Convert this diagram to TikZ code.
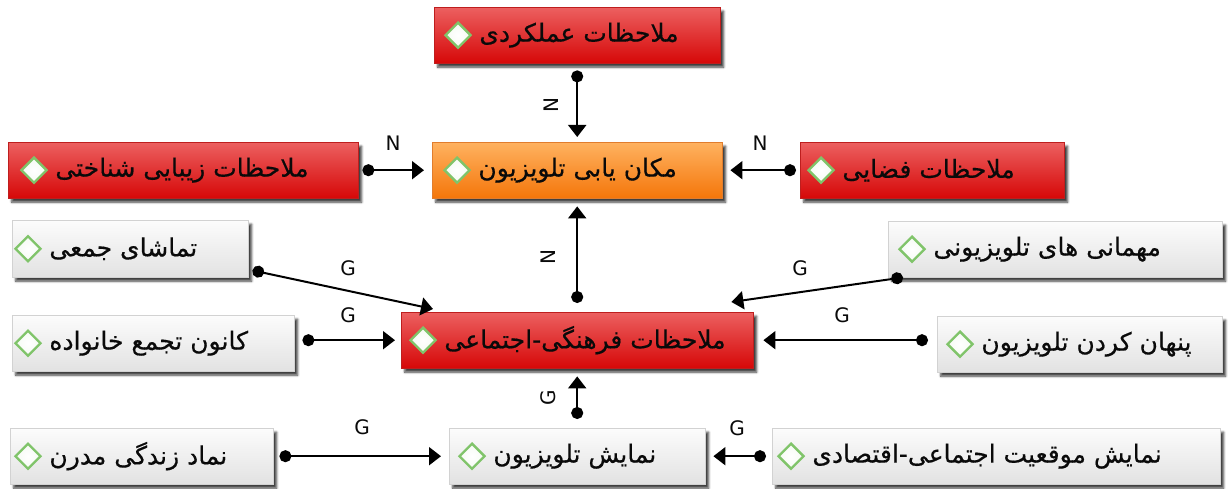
\documentclass[tikz,border=0pt]{standalone}
\usepackage{fontspec}
\setmainfont{DejaVu Sans}
\newfontfamily\fa[Script=Arabic, FakeBold=0.5]{DejaVu Sans}
\TeXXeTstate=1
\usetikzlibrary{arrows.meta,shapes.geometric,shadows.blur,calc}

\definecolor{redtop}{RGB}{236,96,96}
\definecolor{redbot}{RGB}{214,8,8}
\definecolor{redline}{RGB}{190,30,30}
\definecolor{orgtop}{RGB}{255,178,96}
\definecolor{orgbot}{RGB}{244,118,10}
\definecolor{orgline}{RGB}{225,125,45}
\definecolor{graytop}{RGB}{252,252,252}
\definecolor{graybot}{RGB}{226,226,226}
\definecolor{grayline}{RGB}{210,210,210}
\definecolor{gemgreen}{RGB}{128,196,106}
\definecolor{ink}{RGB}{10,10,10}

\begin{document}
\begin{tikzpicture}[x=1pt,y=-1pt,
  box/.style={rectangle, inner sep=0pt, anchor=north west,
    blur shadow={shadow xshift=3.5pt, shadow yshift=-4pt, shadow blur steps=5, shadow opacity=75}},
  redbox/.style={box, top color=redtop, bottom color=redbot, draw=redline, line width=0.4pt},
  orgbox/.style={box, top color=orgtop, bottom color=orgbot, draw=orgline, line width=0.4pt},
  graybox/.style={box, top color=graytop, bottom color=graybot, draw=grayline, line width=0.4pt},
  gem/.style={diamond, draw=gemgreen, line width=2.4pt, inner color=white, outer color=white!92!gemgreen,
    minimum width=26pt, minimum height=26pt, inner sep=0pt},
  txt/.style={anchor=west, inner sep=0pt, text=ink, font=\fa\fontsize{25}{30}\selectfont},
  conn/.style={line width=2pt, {Circle[length=12pt]}-{Triangle[length=12pt,width=18pt]}},
  elab/.style={inner sep=0pt, text=ink, font=\fontsize{20}{20}\selectfont}
]
\useasboundingbox (0,0) rectangle (1228,489);

% ---- boxes ----
\node[redbox,  minimum width=286pt, minimum height=56pt] (top) at (434,7) {};
\node[orgbox,  minimum width=290pt, minimum height=56pt] (loc) at (432,142) {};
\node[redbox,  minimum width=350pt, minimum height=56pt] (aes) at (8,142) {};
\node[redbox,  minimum width=264pt, minimum height=56pt] (spa) at (800,142) {};
\node[graybox, minimum width=236pt, minimum height=57pt] (tam) at (12,220) {};
\node[graybox, minimum width=334pt, minimum height=56pt] (meh) at (888,221) {};
\node[graybox, minimum width=282pt, minimum height=56pt] (kan) at (12,315) {};
\node[redbox,  minimum width=352pt, minimum height=56pt] (soc) at (401,312) {};
\node[graybox, minimum width=285pt, minimum height=56pt] (pen) at (937,316) {};
\node[graybox, minimum width=263pt, minimum height=56pt] (nam) at (10,428) {};
\node[graybox, minimum width=256pt, minimum height=56pt] (nem) at (449,428) {};
\node[graybox, minimum width=448pt, minimum height=56pt] (mow) at (772,428) {};

% ---- diamonds ----
\node[gem] (gtop) at ($(top.west)+(24,0)$) {};
\node[gem] (gloc) at ($(loc.west)+(25,0)$) {};
\node[gem] (gaes) at ($(aes.west)+(26,0)$) {};
\node[gem] (gspa) at ($(spa.west)+(21,0)$) {};
\node[gem] (gtam) at ($(tam.west)+(16,0)$) {};
\node[gem] (gmeh) at ($(meh.west)+(24,0)$) {};
\node[gem] (gkan) at ($(kan.west)+(16,0)$) {};
\node[gem] (gsoc) at ($(soc.west)+(22,0)$) {};
\node[gem] (gpen) at ($(pen.west)+(23,0)$) {};
\node[gem] (gnam) at ($(nam.west)+(18,0)$) {};
\node[gem] (gnem) at ($(nem.west)+(23,0)$) {};
\node[gem] (gmow) at ($(mow.west)+(19,0)$) {};

% ---- texts ----
\node[txt] (ttop) at ($(gtop.east)+(7,0)$) {\beginR ملاحظات عملکردی\endR};
\node[txt] (tloc) at ($(gloc.east)+(7,0)$) {\beginR مکان یابی تلویزیون\endR};
\node[txt] (taes) at ($(gaes.east)+(7,0)$) {\beginR ملاحظات زیبایی شناختی\endR};
\node[txt] (tspa) at ($(gspa.east)+(7,0)$) {\beginR ملاحظات فضایی\endR};
\node[txt] (ttam) at ($(gtam.east)+(7,0)$) {\beginR تماشای جمعی\endR};
\node[txt] (tmeh) at ($(gmeh.east)+(7,0)$) {\beginR مهمانی های تلویزیونی\endR};
\node[txt] (tkan) at ($(gkan.east)+(7,0)$) {\beginR کانون تجمع خانواده\endR};
\node[txt] (tsoc) at ($(gsoc.east)+(7,0)$) {\beginR ملاحظات فرهنگی-اجتماعی\endR};
\node[txt] (tpen) at ($(gpen.east)+(7,0)$) {\beginR پنهان کردن تلویزیون\endR};
\node[txt] (tnam) at ($(gnam.east)+(7,0)$) {\beginR نماد زندگی مدرن\endR};
\node[txt] (tnem) at ($(gnem.east)+(7,0)$) {\beginR نمایش تلویزیون\endR};
\node[txt] (tmow) at ($(gmow.east)+(7,0)$) {\beginR نمایش موقعیت اجتماعی-اقتصادی\endR};

% ---- connectors ----
\draw[conn, shorten <=7pt, shorten >=5pt] (top.south) -- (loc.north);
\draw[conn, shorten <=4pt, shorten >=8pt] (aes.east) -- (loc.west);
\draw[conn, shorten <=4pt, shorten >=8pt] (spa.west) -- (loc.east);
\draw[conn, shorten <=9pt, shorten >=8pt] (soc.north) -- (loc.south);

\coordinate (tamout) at ($(tam.south east)+(4,-7)$);
\coordinate (socin1) at ($(soc.north west)+(32,-3)$);
\draw[conn] (tamout) -- (socin1);
\coordinate (mehout) at ($(meh.south west)+(15,0)$);
\coordinate (socin2) at ($(soc.north east)+(-22,-10)$);
\draw[conn] (mehout) -- (socin2);

\draw[conn, shorten <=8pt, shorten >=6pt] (soc.west -| kan.east) -- (soc.west);
\draw[conn, shorten <=9pt, shorten >=10pt] (soc.east -| pen.west) -- (soc.east);
\draw[conn, shorten <=9pt, shorten >=8pt] (nem.north) -- (soc.south);
\draw[conn, shorten <=6pt, shorten >=8pt] (nam.east) -- (nem.west);
\draw[conn, shorten <=6pt, shorten >=8pt] (mow.west) -- (nem.east);

% ---- connector labels ----
\node[elab, rotate=90] (l1) at (551,105) {N};
\node[elab] (l2) at (393,143) {N};
\node[elab] (l3) at (760,143) {N};
\node[elab, rotate=90] (l4) at (548,257) {N};
\node[elab] (l5) at (348,268) {G};
\node[elab] (l6) at (800,268) {G};
\node[elab] (l7) at (348,315) {G};
\node[elab] (l8) at (842,315) {G};
\node[elab, rotate=90] (l9) at (548,398) {G};
\node[elab] (l10) at (362,427) {G};
\node[elab] (l11) at (737,428) {G};
\end{tikzpicture}
\end{document}
